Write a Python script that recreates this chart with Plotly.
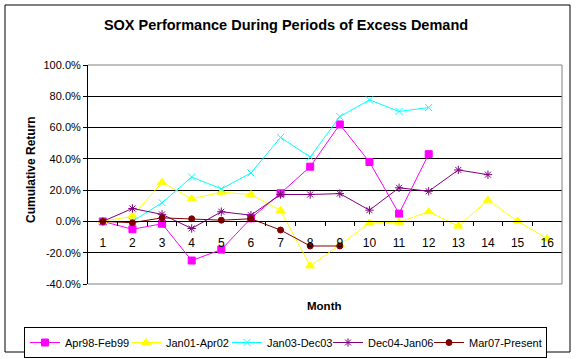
import plotly.graph_objects as go

months = list(range(1, 17))
month_labels = [str(m) for m in months]

apr98_feb99 = [0.0, -5.0, -1.5, -25.0, -18.0, 2.0, 18.0, 35.0, 62.0, 38.0, 5.0, 43.0]
jan01_apr02 = [0.0, 3.4, 25.0, 14.5, 18.7, 17.2, 7.0, -28.4, -15.0, -1.0, -0.5, 6.2, -3.0, 13.6, 0.2, -11.0]
jan03_dec03 = [0.0, 0.0, 12.0, 28.4, 20.8, 31.0, 53.7, 41.2, 67.0, 77.7, 70.3, 72.8]
dec04_jan06 = [0.0, 8.3, 4.5, -4.5, 6.2, 4.0, 17.2, 17.2, 17.8, 7.2, 21.5, 19.3, 32.9, 29.9]
mar07_present = [0.0, -0.8, 2.3, 1.7, 0.8, 1.7, -5.5, -15.7, -15.7]

series_names = ["Apr98-Feb99", "Jan01-Apr02", "Jan03-Dec03", "Dec04-Jan06", "Mar07-Present"]
series_values = [apr98_feb99, jan01_apr02, jan03_dec03, dec04_jan06, mar07_present]

y_ticks = [-40, -20, 0, 20, 40, 60, 80, 100]

colors = ["#FF00FF", "#FFFF00", "#00FFFF", "#800080", "#800000"]
symbols = ["square", "triangle-up", "x-thin", "asterisk", "circle"]
sizes = [7, 8, 7, 7, 6]
legend_widths = [56, 56, 56, 56, 72]

FONT = "Liberation Sans, Arial, sans-serif"

fig = go.Figure()
for name, vals, c, s, sz, lw in zip(series_names, series_values, colors, symbols, sizes, legend_widths):
    marker = dict(symbol=s, size=sz, color=c, line=dict(color=c, width=1))
    fig.add_trace(go.Scatter(
        x=months[:len(vals)], y=vals, name=name, mode="lines+markers",
        line=dict(color=c, width=1), marker=marker, legendwidth=lw,
    ))
# helper trace so the between-category tick axis is drawn
fig.add_trace(go.Scatter(x=[months[0]], y=[None], xaxis="x2", showlegend=False,
                         hoverinfo="skip", mode="lines"))

W, H = 577, 359
L, R, T, B = 88, 562, 65, 284
def px(x):
    return (x - L) / (R - L)
def py(y):
    return (B - y) / (B - T)

zero_pos = (0 - y_ticks[0]) / (y_ticks[-1] - y_ticks[0])

fig.update_layout(
    width=W, height=H,
    margin=dict(l=L, r=W - R, t=T, b=H - B, autoexpand=False),
    paper_bgcolor="white", plot_bgcolor="white",
    font=dict(family=FONT, size=11, color="black"),
    showlegend=True,
    legend=dict(
        orientation="h", xref="paper", yref="paper",
        x=px(24), y=py(327), xanchor="left", yanchor="top",
        bordercolor="black", borderwidth=1, bgcolor="white",
        font=dict(family=FONT, size=11, color="black"),
        itemwidth=30,
    ),
    xaxis=dict(
        range=[0.5, 16.5], tickmode="array", tickvals=months, ticktext=month_labels,
        ticks="", showgrid=False, zeroline=False, showline=True, linecolor="black",
        linewidth=1, anchor="free", position=zero_pos, ticklabelstandoff=10,
        tickfont=dict(family=FONT, size=12, color="black"),
    ),
    xaxis2=dict(
        range=[0.5, 16.5], overlaying="x", anchor="free", position=zero_pos,
        tickmode="array", tickvals=[m + 0.5 for m in months[:-1]],
        showticklabels=False, ticks="outside", ticklen=4, tickcolor="black",
        showgrid=False, zeroline=False, showline=False, side="bottom",
    ),
    yaxis=dict(
        range=[-40, 100], tickmode="array", tickvals=y_ticks,
        ticktext=[f"{v:.1f}%" for v in y_ticks],
        ticks="outside", ticklen=4, tickcolor="black",
        showgrid=True, gridcolor="black", gridwidth=1, zeroline=False,
        showline=True, linecolor="black", linewidth=1,
        tickfont=dict(family=FONT, size=11, color="black"),
    ),
    title=dict(text="<b>SOX Performance During Periods of Excess Demand</b>",
               x=286 / W, y=1 - 25 / H, xanchor="center", yanchor="middle",
               xref="container", yref="container",
               font=dict(family=FONT, size=14.5, color="black")),
    annotations=[
        dict(text="<b>Cumulative Return</b>", x=px(31), y=py(170), xref="paper", yref="paper",
             textangle=-90, showarrow=False, xanchor="center", yanchor="middle",
             font=dict(family=FONT, size=12, color="black")),
        dict(text="<b>Month</b>", x=px(324), y=py(306), xref="paper", yref="paper",
             showarrow=False, xanchor="center", yanchor="middle",
             font=dict(family=FONT, size=11.5, color="black")),
    ],
    shapes=[
        dict(type="line", xref="paper", yref="paper", x0=0, x1=1, y0=1, y1=1,
             line=dict(color="#808080", width=1), layer="above"),
        dict(type="line", xref="paper", yref="paper", x0=1, x1=1, y0=0, y1=1,
             line=dict(color="#808080", width=1), layer="above"),
        dict(type="line", xref="paper", yref="paper", x0=0, x1=1, y0=0, y1=0,
             line=dict(color="#808080", width=1), layer="above"),
        dict(type="rect", xref="paper", yref="paper", x0=px(5), x1=px(570),
             y0=py(352), y1=py(5), line=dict(color="black", width=1),
             fillcolor="rgba(0,0,0,0)", layer="above"),
    ],
)

fig.write_html("out.html", config={"displayModeBar": False},
               post_script="document.body.style.margin='0';document.body.style.overflow='hidden';")
